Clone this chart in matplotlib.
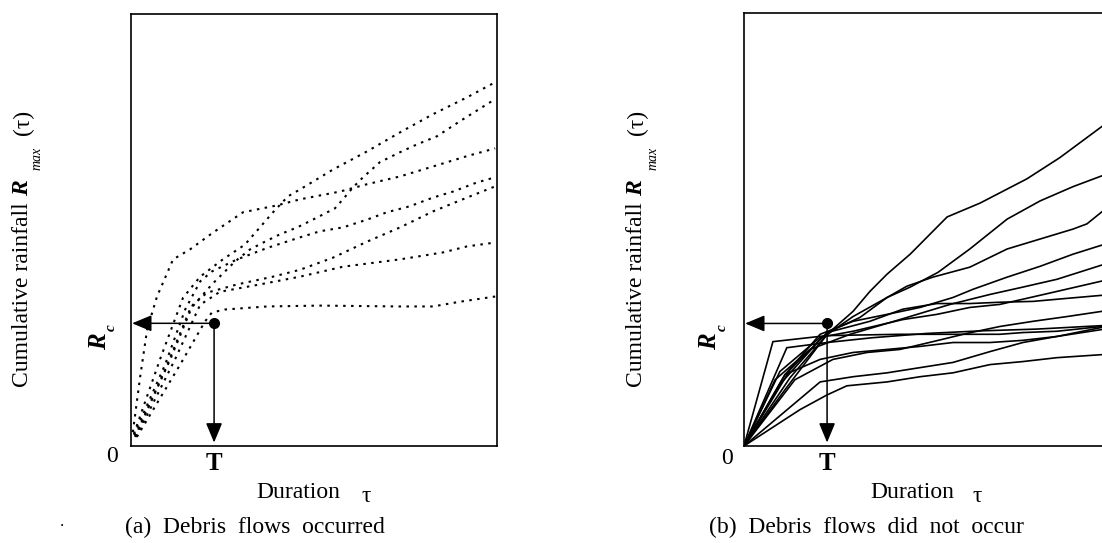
import matplotlib
matplotlib.use("Agg")
import matplotlib.pyplot as plt

# ---------------- data (duration tau, cumulative rainfall; both in % of axis range) -------------
# (a) Debris flows occurred : seven dotted curves
occ1_tau = [0.5, 2.5, 4.4, 7.1, 11.5, 16.1, 22.4, 30.6, 39.9, 46.2, 57.1, 64.5, 73.5, 82.5, 91.8, 99.5]
occ1_R = [3.2, 16.0, 26.9, 34.6, 43.2, 45.5, 49.4, 54.1, 55.7, 57.1, 58.9, 60.6, 62.4, 64.7, 67.1, 68.9]
occ2_tau = [0.8, 7.9, 14.2, 18.9, 25.1, 31.1, 34.7, 38.8, 42.9, 46.2, 55.2, 64.5, 73.5, 82.5, 91.8, 99.5]
occ2_R = [2.8, 20.0, 34.3, 39.2, 43.2, 46.6, 50.1, 54.1, 57.8, 59.4, 64.0, 68.2, 72.6, 76.8, 80.7, 84.2]
occ3_tau = [1.1, 9.3, 16.1, 22.1, 28.4, 32.5, 36.6, 40.7, 45.4, 49.7, 55.7, 57.9, 60.7, 63.4, 68.0, 73.5, 78.1, 83.6, 89.9, 99.5]
occ3_R = [2.3, 17.6, 31.6, 37.4, 42.7, 45.5, 47.3, 49.0, 50.6, 52.4, 55.0, 57.1, 59.9, 62.2, 65.7, 68.0, 69.8, 71.7, 75.2, 80.3]
occ4_tau = [0.8, 9.3, 14.8, 18.9, 22.1, 29.0, 37.4, 46.2, 51.6, 57.9, 64.5, 69.9, 76.2, 82.5, 88.0, 94.5, 99.5]
occ4_R = [2.6, 18.8, 31.6, 38.1, 40.4, 43.2, 45.9, 48.3, 49.7, 50.6, 52.4, 54.1, 55.5, 57.5, 58.9, 61.0, 62.2]
occ5_tau = [1.1, 10.7, 16.9, 20.8, 29.0, 38.8, 46.2, 55.2, 64.5, 73.5, 82.5, 91.8, 99.5]
occ5_R = [2.1, 20.0, 32.7, 35.5, 37.4, 39.2, 40.8, 43.6, 47.3, 50.6, 54.3, 57.5, 60.1]
occ6_tau = [1.4, 12.0, 18.9, 24.3, 35.2, 46.2, 57.9, 73.5, 85.2, 91.8, 99.5]
occ6_R = [2.1, 20.0, 32.7, 35.7, 37.4, 39.2, 41.5, 43.2, 44.8, 46.2, 47.1]
occ7_tau = [1.6, 13.4, 20.2, 22.1, 25.7, 37.2, 51.6, 73.5, 82.5, 89.9, 99.5]
occ7_R = [2.1, 18.8, 28.8, 30.9, 31.6, 32.3, 32.5, 32.3, 32.3, 33.4, 34.6]

# (b) Debris flows did not occur : solid curves
non1_tau = [0, 11.2, 22.7, 29.8, 34.4, 39.1, 45.4, 55.5, 64.5, 77.3, 86.3, 97.8, 100]
non1_R = [0, 13.0, 25.8, 31.1, 35.7, 39.7, 44.3, 52.9, 56.1, 61.7, 66.6, 73.8, 75.2]
non2_tau = [0, 12.6, 23.5, 31.7, 39.1, 45.4, 53.0, 61.7, 71.9, 80.9, 89.9, 97.8, 100]
non2_R = [0, 15.8, 26.5, 29.7, 34.3, 36.7, 40.1, 45.5, 52.4, 56.6, 59.9, 62.4, 63.1]
non3_tau = [0, 9.8, 20.8, 29.8, 39.1, 44.5, 51.6, 61.7, 71.9, 80.9, 89.9, 93.7, 97.8, 100]
non3_R = [0, 14.2, 24.6, 29.9, 34.3, 36.9, 39.0, 41.3, 45.5, 47.8, 50.1, 51.3, 54.1, 55.2]
non4_tau = [0, 11.2, 20.8, 29.8, 39.1, 48.1, 57.1, 62.6, 71.9, 80.9, 89.9, 97.8, 100]
non4_R = [0, 16.5, 25.8, 28.8, 30.4, 32.0, 34.3, 36.2, 39.0, 41.5, 44.3, 46.4, 47.1]
non5_tau = [0, 8.5, 18.0, 29.0, 42.6, 56.3, 67.2, 76.2, 85.5, 97.8, 100]
non5_R = [0, 15.3, 22.3, 25.8, 29.2, 32.7, 35.0, 36.7, 38.5, 41.8, 42.5]
non6_tau = [0, 9.8, 20.8, 29.8, 43.4, 52.7, 61.7, 69.9, 76.2, 85.5, 97.8, 100]
non6_R = [0, 17.2, 25.1, 26.5, 29.2, 30.4, 32.0, 32.7, 33.9, 35.7, 38.1, 38.5]
non7_tau = [0, 12.6, 22.7, 34.4, 43.4, 52.7, 61.7, 69.9, 79.0, 88.3, 97.8, 100]
non7_R = [0, 17.6, 26.2, 28.8, 31.6, 32.9, 32.9, 33.2, 33.4, 34.1, 34.8, 35.0]
non8_tau = [0, 7.9, 22.7, 42.6, 69.9, 76.2, 85.5, 97.8, 100]
non8_R = [0, 24.1, 25.5, 25.8, 25.8, 26.2, 26.5, 27.6, 27.8]
non9_tau = [0, 13.9, 24.3, 33.6, 42.6, 51.6, 60.9, 69.9, 79.0, 88.3, 97.8, 100]
non9_R = [0, 15.3, 20.0, 21.6, 22.3, 24.1, 26.0, 27.6, 28.8, 29.9, 31.1, 31.3]
non10_tau = [0, 11.2, 20.8, 29.8, 39.1, 48.1, 57.1, 67.2, 76.2, 85.5, 97.8, 100]
non10_R = [0, 16.5, 20.0, 21.6, 22.3, 23.0, 23.9, 23.9, 24.4, 25.3, 26.9, 27.1]
non11_tau = [0, 20.8, 29.8, 39.1, 48.1, 57.1, 67.2, 76.2, 85.5, 97.8, 100]
non11_R = [0, 14.8, 16.0, 16.9, 18.1, 19.3, 21.8, 23.9, 25.3, 27.4, 27.8]
non12_tau = [0, 11.7, 22.7, 35.0, 50.0, 65.0, 80.0, 97.8, 100]
non12_R = [0, 22.7, 23.9, 25.0, 26.0, 26.6, 27.0, 27.8, 28.0]
non13_tau = [0, 15.3, 22.7, 28.1, 39.1, 48.1, 57.1, 67.2, 76.2, 85.5, 97.8, 100]
non13_R = [0, 8.4, 11.8, 13.9, 14.8, 16.0, 16.9, 18.8, 19.5, 20.4, 21.1, 21.3]

# critical point (T, Rc)
T_a, Rc_a = 22.7, 28.4
T_b, Rc_b = 22.7, 28.3

occurred = [(occ1_tau, occ1_R), (occ2_tau, occ2_R), (occ3_tau, occ3_R), (occ4_tau, occ4_R),
            (occ5_tau, occ5_R), (occ6_tau, occ6_R), (occ7_tau, occ7_R)]
not_occurred = [(non1_tau, non1_R), (non2_tau, non2_R), (non3_tau, non3_R), (non4_tau, non4_R),
                (non5_tau, non5_R), (non6_tau, non6_R), (non7_tau, non7_R), (non8_tau, non8_R),
                (non9_tau, non9_R), (non10_tau, non10_R), (non11_tau, non11_R), (non12_tau, non12_R),
                (non13_tau, non13_R)]

# ---------------- figure ----------------
W, H, DPI = 1102, 543, 100
SERIF = ["Liberation Serif", "DejaVu Serif"]
plt.rcParams["font.family"] = SERIF

fig = plt.figure(figsize=(W / DPI, H / DPI), dpi=DPI)
fig.patch.set_facecolor("white")


def fx(px):
    return px / W


def fy(py):
    return 1 - py / H


ax_a = fig.add_axes([fx(131), fy(446), fx(497) - fx(131), fy(14) - fy(446)])
ax_b = fig.add_axes([fx(744), fy(446), fx(1110) - fx(744), fy(13) - fy(446)])

for ax in (ax_a, ax_b):
    ax.set_xlim(0, 100)
    ax.set_ylim(0, 100)
    ax.set_xticks([])
    ax.set_yticks([])
    for s in ax.spines.values():
        s.set_linewidth(1.2)
        s.set_color("black")

for tau, R in occurred:
    ax_a.plot(tau, R, color="black", lw=1.5, linestyle=(0, (1.2, 2.6)), solid_capstyle="butt")

for tau, R in not_occurred:
    ax_b.plot(tau, R, color="black", lw=1.2, solid_joinstyle="miter")


def critical(ax, T, Rc):
    ap = dict(arrowstyle="-|>,head_length=0.6,head_width=0.25", lw=1.1, color="black",
              shrinkA=0, shrinkB=0, mutation_scale=20)
    ax.annotate("", xy=(0.3, Rc), xytext=(T, Rc), arrowprops=ap)
    ax.annotate("", xy=(T, 0.8), xytext=(T, Rc), arrowprops=ap)
    ax.plot([T], [Rc], "o", color="black", markersize=7, zorder=5)


critical(ax_a, T_a, Rc_a)
critical(ax_b, T_b, Rc_b)

FS = 17


def ylabel_parts(xc, xsub):
    fig.text(fx(xc), fy(295), "Cumulative rainfall", rotation=90, ha="center", va="center", fontsize=FS)
    fig.text(fx(xc), fy(188), "R", rotation=90, ha="center", va="center", fontsize=FS,
             fontweight="bold", fontstyle="italic")
    fig.text(fx(xsub), fy(158), "max", rotation=90, ha="center", va="center", fontsize=10,
             fontstyle="italic")
    fig.text(fx(xc), fy(122), "(τ)", rotation=90, ha="center", va="center", fontsize=FS)


ylabel_parts(23, 37)
ylabel_parts(637, 653)

# R_c labels
for xr, xc_ in ((100, 111), (710, 722)):
    fig.text(fx(xr), fy(342), "R", rotation=90, ha="center", va="center", fontsize=18,
             fontweight="bold", fontstyle="italic")
    fig.text(fx(xc_), fy(328), "c", rotation=90, ha="center", va="center", fontsize=11,
             fontstyle="italic", fontweight="bold")

# origin / T labels
fig.text(fx(112), fy(456), "0", ha="center", va="center", fontsize=FS)
fig.text(fx(727), fy(458), "0", ha="center", va="center", fontsize=FS)
fig.text(fx(214), fy(463), "T", ha="center", va="center", fontsize=18, fontweight="bold")
fig.text(fx(827), fy(463), "T", ha="center", va="center", fontsize=18, fontweight="bold")

# x labels
fig.text(fx(298), fy(493), "Duration", ha="center", va="center", fontsize=FS)
fig.text(fx(366), fy(496), "τ", ha="center", va="center", fontsize=FS)
fig.text(fx(912), fy(493), "Duration", ha="center", va="center", fontsize=FS)
fig.text(fx(977), fy(496), "τ", ha="center", va="center", fontsize=FS)

# captions
fig.text(fx(255), fy(527), "(a)  Debris  flows  occurred", ha="center", va="center", fontsize=FS)
fig.text(fx(866), fy(527), "(b)  Debris  flows  did  not  occur", ha="center", va="center", fontsize=FS)
fig.text(fx(62), fy(522), ".", ha="center", va="center", fontsize=12)

fig.savefig("out.png", dpi=DPI)
